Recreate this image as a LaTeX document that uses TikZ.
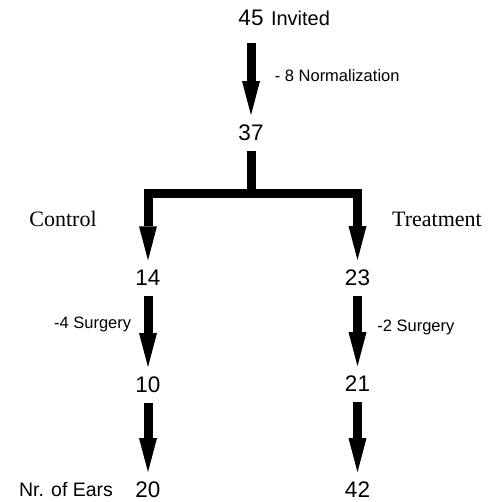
\documentclass[tikz,border=0pt]{standalone}
\usepackage{fontspec}
\setmainfont{Liberation Sans}
\newfontfamily\grpfont{Liberation Serif}
\usetikzlibrary{arrows.meta, positioning}

\begin{document}
\begin{tikzpicture}[x=1pt, y=-1pt,
    num/.style={inner sep=2pt, outer sep=8pt, font=\fontsize{22.5}{26}\selectfont},
    fatarrow/.style={-{Triangle[length=34pt, width=18pt, line width=0pt]}, line width=9pt, black},
    steplbl/.style={font=\fontsize{16.5}{20}\selectfont},
    grplbl/.style={font=\grpfont\fontsize{22}{26}\selectfont}]
  \useasboundingbox (0,0) rectangle (487,502);
  % counts
  \node[num] (n45) at (251,18) {45};
  \node[num] (n37) at (251,133) {37};
  \node[num] (n14) at (148,278) {14};
  \node[num] (n23) at (357.5,278) {23};
  \node[num] (n10) at (148,385) {10};
  \node[num] (n21) at (357.5,384) {21};
  \node[num] (n20) at (148,490) {20};
  \node[num] (n42) at (357.5,490) {42};
  \node[font=\fontsize{20}{24}\selectfont, right=-6pt of n45] (invited) {Invited};
  \node[font=\fontsize{19.5}{24}\selectfont, left=9pt of n20] (ears) {Nr. of Ears};
  % groups
  \node[grplbl] (ctrl) at (63,219) {Control};
  \node[grplbl] (treat) at (437,219) {Treatment};
  % flow
  \draw[fatarrow, shorten <=7pt] (n45) -- node[steplbl, right=16pt] (norm) {- 8 Normalization} (n37);
  \coordinate (split) at (251,194);
  \draw[fatarrow] (n37) -- (split) -| (n14);
  \draw[fatarrow] (split) -| (n23);
  \draw[fatarrow] (n14) -- node[steplbl, left=9pt, pos=0.4] (surgL) {-4 Surgery} (n10);
  \draw[fatarrow] (n23) -- node[steplbl, right=12pt, pos=0.45] (surgR) {-2 Surgery} (n21);
  \draw[fatarrow] (n10) -- (n20);
  \draw[fatarrow] (n21) -- (n42);
\end{tikzpicture}
\end{document}
